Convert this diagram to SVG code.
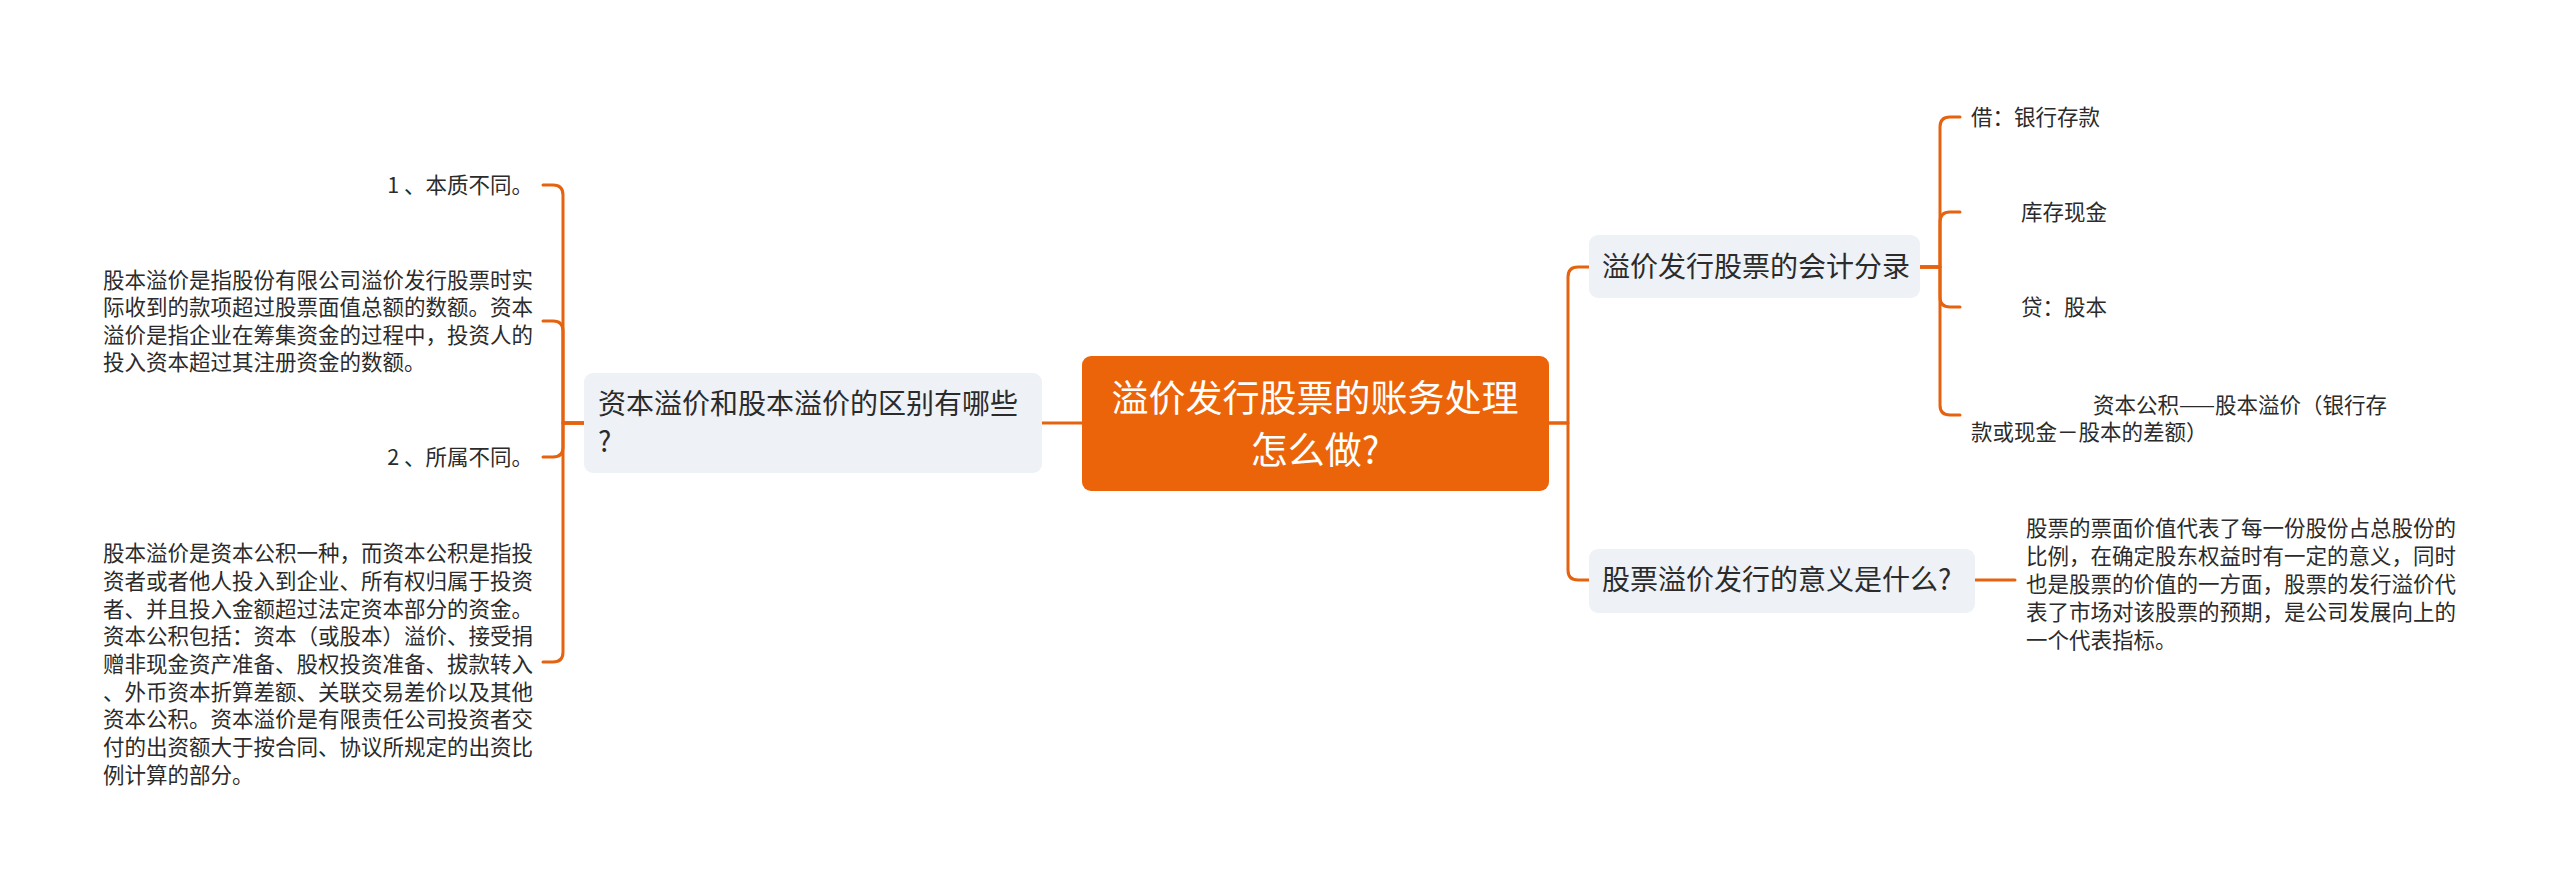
<svg xmlns="http://www.w3.org/2000/svg" width="2560" height="891" viewBox="0 0 2560 891">
<style>
text{font-family:"Noto Sans CJK SC","Noto Sans",sans-serif;fill:#2b2b2b}
.c{font-size:37px;fill:#ffffff;text-anchor:middle}
.s{font-size:28px}
.l{font-size:21.5px}
.e{text-anchor:end}
.sub{fill:#eef1f5}
.ln{fill:none;stroke:#e5620f;stroke-width:3;stroke-linecap:round;stroke-linejoin:round}
</style>
<rect width="2560" height="891" fill="#ffffff"/>
<g id="connectors">
<path class="ln" d="M1082 423 H1042"/>
<path class="ln" d="M1549 423 H1568 V277 Q1568 267 1578 267 H1589"/>
<path class="ln" d="M1549 423 H1568 V570 Q1568 580 1578 580 H1589"/>
<path class="ln" d="M584 423 H563 V195 Q563 185 553 185 H543"/>
<path class="ln" d="M584 423 H563 V331 Q563 321 553 321 H543"/>
<path class="ln" d="M584 423 H563 V447 Q563 457 553 457 H543"/>
<path class="ln" d="M584 423 H563 V652 Q563 662 553 662 H543"/>
<path class="ln" d="M1920 267 H1940 V127 Q1940 117 1950 117 H1960"/>
<path class="ln" d="M1920 267 H1940 V222 Q1940 212 1950 212 H1960"/>
<path class="ln" d="M1920 267 H1940 V297 Q1940 307 1950 307 H1960"/>
<path class="ln" d="M1920 267 H1940 V405 Q1940 415 1950 415 H1960"/>
<path class="ln" d="M1975 580 H2015"/>
</g>
<g id="root">
<rect x="1082" y="356" width="467" height="135" rx="9" fill="#ec6409"/>
<text class="c" x="1315" y="412">溢价发行股票的账务处理</text>
<text class="c" x="1315" y="464">怎么做?</text>
</g>
<g id="n-diff">
<rect class="sub" x="584" y="373" width="458" height="100" rx="9"/>
<text class="s" x="598" y="414">资本溢价和股本溢价的区别有哪些</text>
<text class="s" x="598" y="452">?</text>
</g>
<g id="n-entry">
<rect class="sub" x="1589" y="235" width="331" height="63" rx="9"/>
<text class="s" x="1602" y="277">溢价发行股票的会计分录</text>
</g>
<g id="n-meaning">
<rect class="sub" x="1589" y="549" width="386" height="64" rx="9"/>
<text class="s" x="1602" y="590">股票溢价发行的意义是什么?</text>
</g>
<g id="l-1">
<text class="l e" x="533" y="193">1 、本质不同。</text>
</g>
<g id="l-1d">
<text class="l" x="103" y="288">股本溢价是指股份有限公司溢价发行股票时实</text>
<text class="l" x="103" y="315">际收到的款项超过股票面值总额的数额。资本</text>
<text class="l" x="103" y="343">溢价是指企业在筹集资金的过程中，投资人的</text>
<text class="l" x="103" y="370">投入资本超过其注册资金的数额。</text>
</g>
<g id="l-2">
<text class="l e" x="533" y="465">2 、所属不同。</text>
</g>
<g id="l-2d">
<text class="l" x="103" y="561">股本溢价是资本公积一种，而资本公积是指投</text>
<text class="l" x="103" y="589">资者或者他人投入到企业、所有权归属于投资</text>
<text class="l" x="103" y="617">者、并且投入金额超过法定资本部分的资金。</text>
<text class="l" x="103" y="644">资本公积包括：资本（或股本）溢价、接受捐</text>
<text class="l" x="103" y="672">赠非现金资产准备、股权投资准备、拔款转入</text>
<text class="l" x="103" y="700">、外币资本折算差额、关联交易差价以及其他</text>
<text class="l" x="103" y="727">资本公积。资本溢价是有限责任公司投资者交</text>
<text class="l" x="103" y="755">付的出资额大于按合同、协议所规定的出资比</text>
<text class="l" x="103" y="783">例计算的部分。</text>
</g>
<g id="r-1">
<text class="l" x="1971" y="125">借：银行存款</text>
</g>
<g id="r-2">
<text class="l" x="2021" y="220">库存现金</text>
</g>
<g id="r-3">
<text class="l" x="2021" y="315">贷：股本</text>
</g>
<g id="r-4">
<text class="l" x="2093" y="413">资本公积——股本溢价（银行存</text>
<text class="l" x="1971" y="440">款或现金－股本的差额）</text>
</g>
<g id="r-5">
<text class="l" x="2026" y="536">股票的票面价值代表了每一份股份占总股份的</text>
<text class="l" x="2026" y="564">比例，在确定股东权益时有一定的意义，同时</text>
<text class="l" x="2026" y="592">也是股票的价值的一方面，股票的发行溢价代</text>
<text class="l" x="2026" y="620">表了市场对该股票的预期，是公司发展向上的</text>
<text class="l" x="2026" y="648">一个代表指标。</text>
</g>
</svg>
